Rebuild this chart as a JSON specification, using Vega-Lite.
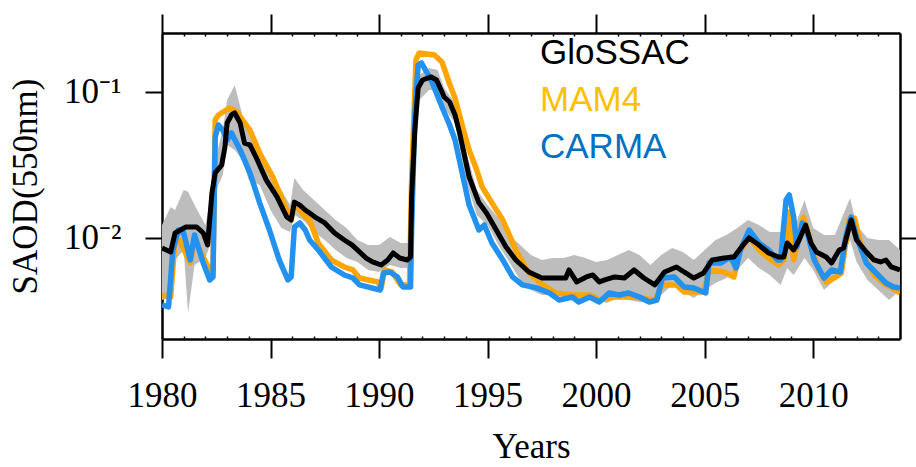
{
  "$schema": "https://vega.github.io/schema/vega-lite/v6.json",
  "width": 738,
  "height": 306,
  "autosize": "none",
  "padding": {"left": 162, "top": 33, "right": 16, "bottom": 128},
  "background": "white",
  "config": {
    "view": {"stroke": null},
    "axis": {
      "domainColor": "black", "domainWidth": 2.5, "tickColor": "black", "tickWidth": 2,
      "labelFont": "Liberation Serif", "labelFontSize": 35, "labelColor": "black",
      "titleFont": "Liberation Serif", "titleFontSize": 35, "titleFontWeight": "normal", "titleColor": "black",
      "grid": false, "zindex": 1, "labelFlush": false, "labelOverlap": false
    }
  },
  "datasets": {
    "band": [
      {"year": 1980.0, "lo": 0.00376, "hi": 0.01227}, {"year": 1980.4, "lo": 0.00394, "hi": 0.0163},
      {"year": 1980.6, "lo": 0.00707, "hi": 0.01555}, {"year": 1981.0, "lo": 0.00828, "hi": 0.0213},
      {"year": 1981.2, "lo": 0.00306, "hi": 0.0207}, {"year": 1981.5, "lo": 0.00653, "hi": 0.0168},
      {"year": 1982.0, "lo": 0.00729, "hi": 0.01227}, {"year": 1982.3, "lo": 0.00969, "hi": 0.0213},
      {"year": 1982.5, "lo": 0.0213, "hi": 0.037}, {"year": 1982.8, "lo": 0.027, "hi": 0.0549},
      {"year": 1983.0, "lo": 0.0434, "hi": 0.0882}, {"year": 1983.35, "lo": 0.0401, "hi": 0.1116},
      {"year": 1983.7, "lo": 0.0342, "hi": 0.0696}, {"year": 1984.0, "lo": 0.025, "hi": 0.0549},
      {"year": 1984.5, "lo": 0.0231, "hi": 0.0401}, {"year": 1985.0, "lo": 0.01555, "hi": 0.0292},
      {"year": 1985.5, "lo": 0.01171, "hi": 0.0213}, {"year": 1985.9, "lo": 0.01099, "hi": 0.0168},
      {"year": 1986.1, "lo": 0.01437, "hi": 0.0258}, {"year": 1986.5, "lo": 0.01328, "hi": 0.0213},
      {"year": 1987.0, "lo": 0.01099, "hi": 0.0182}, {"year": 1987.5, "lo": 0.00969, "hi": 0.01555},
      {"year": 1988.0, "lo": 0.00828, "hi": 0.01328}, {"year": 1988.5, "lo": 0.00729, "hi": 0.01171},
      {"year": 1989.0, "lo": 0.00685, "hi": 0.00969}, {"year": 1989.5, "lo": 0.00604, "hi": 0.00896},
      {"year": 1990.0, "lo": 0.00585, "hi": 0.00896}, {"year": 1990.5, "lo": 0.00653, "hi": 0.01016},
      {"year": 1991.0, "lo": 0.00623, "hi": 0.00924}, {"year": 1991.45, "lo": 0.00623, "hi": 0.00924},
      {"year": 1991.5, "lo": 0.01555, "hi": 0.0213}, {"year": 1991.7, "lo": 0.0401, "hi": 0.0954},
      {"year": 1991.85, "lo": 0.0882, "hi": 0.1308}, {"year": 1992.3, "lo": 0.1032, "hi": 0.146},
      {"year": 1992.7, "lo": 0.1032, "hi": 0.1415}, {"year": 1993.0, "lo": 0.0777, "hi": 0.1065},
      {"year": 1993.5, "lo": 0.0613, "hi": 0.0841}, {"year": 1994.0, "lo": 0.025, "hi": 0.0401},
      {"year": 1994.5, "lo": 0.01437, "hi": 0.0213}, {"year": 1995.0, "lo": 0.01227, "hi": 0.0168},
      {"year": 1995.5, "lo": 0.00896, "hi": 0.01371}, {"year": 1996.0, "lo": 0.00685, "hi": 0.01048},
      {"year": 1996.5, "lo": 0.00516, "hi": 0.00896}, {"year": 1997.0, "lo": 0.0044, "hi": 0.00765},
      {"year": 1997.5, "lo": 0.00407, "hi": 0.00707}, {"year": 1998.0, "lo": 0.00407, "hi": 0.00729},
      {"year": 1998.5, "lo": 0.00407, "hi": 0.00729}, {"year": 1999.0, "lo": 0.00376, "hi": 0.00765},
      {"year": 1999.5, "lo": 0.00376, "hi": 0.00729}, {"year": 2000.0, "lo": 0.00376, "hi": 0.00685},
      {"year": 2000.5, "lo": 0.00359, "hi": 0.00707}, {"year": 2001.0, "lo": 0.00388, "hi": 0.00765},
      {"year": 2001.5, "lo": 0.00376, "hi": 0.00828}, {"year": 2002.0, "lo": 0.00364, "hi": 0.00765},
      {"year": 2002.5, "lo": 0.00359, "hi": 0.00653}, {"year": 2003.0, "lo": 0.00407, "hi": 0.00765},
      {"year": 2003.5, "lo": 0.00477, "hi": 0.00854}, {"year": 2004.0, "lo": 0.00427, "hi": 0.00802},
      {"year": 2004.5, "lo": 0.00388, "hi": 0.00707}, {"year": 2005.0, "lo": 0.0044, "hi": 0.00828},
      {"year": 2005.5, "lo": 0.00492, "hi": 0.00969}, {"year": 2006.0, "lo": 0.00532, "hi": 0.01048},
      {"year": 2006.5, "lo": 0.00604, "hi": 0.01171}, {"year": 2007.0, "lo": 0.00729, "hi": 0.01328},
      {"year": 2007.5, "lo": 0.00623, "hi": 0.01227}, {"year": 2008.0, "lo": 0.00558, "hi": 0.01099},
      {"year": 2008.5, "lo": 0.00477, "hi": 0.01099}, {"year": 2008.8, "lo": 0.00623, "hi": 0.01328},
      {"year": 2009.1, "lo": 0.00558, "hi": 0.01134}, {"year": 2009.6, "lo": 0.00729, "hi": 0.0182},
      {"year": 2010.0, "lo": 0.00604, "hi": 0.01171}, {"year": 2010.5, "lo": 0.0044, "hi": 0.01048},
      {"year": 2011.0, "lo": 0.00516, "hi": 0.01048}, {"year": 2011.7, "lo": 0.00969, "hi": 0.0188},
      {"year": 2012.0, "lo": 0.00685, "hi": 0.01227}, {"year": 2012.5, "lo": 0.00516, "hi": 0.01},
      {"year": 2013.0, "lo": 0.0044, "hi": 0.00969}, {"year": 2013.5, "lo": 0.00376, "hi": 0.00969},
      {"year": 2014.0, "lo": 0.0044, "hi": 0.00828}
    ],
    "series": [
      {"series": "GloSSAC", "year": 1980.0, "saod": 0.00854}, {"series": "GloSSAC", "year": 1980.4, "saod": 0.00802},
      {"series": "GloSSAC", "year": 1980.6, "saod": 0.01082}, {"series": "GloSSAC", "year": 1981.1, "saod": 0.01189},
      {"series": "GloSSAC", "year": 1981.6, "saod": 0.01189}, {"series": "GloSSAC", "year": 1981.9, "saod": 0.01082},
      {"series": "GloSSAC", "year": 1982.1, "saod": 0.00896}, {"series": "GloSSAC", "year": 1982.3, "saod": 0.0203},
      {"series": "GloSSAC", "year": 1982.45, "saod": 0.0279}, {"series": "GloSSAC", "year": 1982.75, "saod": 0.0316},
      {"series": "GloSSAC", "year": 1982.9, "saod": 0.042}, {"series": "GloSSAC", "year": 1983.0, "saod": 0.0613},
      {"series": "GloSSAC", "year": 1983.2, "saod": 0.0696}, {"series": "GloSSAC", "year": 1983.35, "saod": 0.0718},
      {"series": "GloSSAC", "year": 1983.6, "saod": 0.0613}, {"series": "GloSSAC", "year": 1983.8, "saod": 0.0447},
      {"series": "GloSSAC", "year": 1984.05, "saod": 0.0434}, {"series": "GloSSAC", "year": 1984.35, "saod": 0.0353},
      {"series": "GloSSAC", "year": 1984.8, "saod": 0.025}, {"series": "GloSSAC", "year": 1985.3, "saod": 0.0191},
      {"series": "GloSSAC", "year": 1985.75, "saod": 0.01392}, {"series": "GloSSAC", "year": 1985.95, "saod": 0.01328},
      {"series": "GloSSAC", "year": 1986.1, "saod": 0.0176}, {"series": "GloSSAC", "year": 1986.35, "saod": 0.0168},
      {"series": "GloSSAC", "year": 1986.6, "saod": 0.01555}, {"series": "GloSSAC", "year": 1986.8, "saod": 0.01483},
      {"series": "GloSSAC", "year": 1987.05, "saod": 0.01392}, {"series": "GloSSAC", "year": 1987.5, "saod": 0.01267},
      {"series": "GloSSAC", "year": 1987.95, "saod": 0.01082}, {"series": "GloSSAC", "year": 1988.4, "saod": 0.00969},
      {"series": "GloSSAC", "year": 1988.75, "saod": 0.00896}, {"series": "GloSSAC", "year": 1989.0, "saod": 0.00828},
      {"series": "GloSSAC", "year": 1989.4, "saod": 0.00729}, {"series": "GloSSAC", "year": 1989.7, "saod": 0.00685},
      {"series": "GloSSAC", "year": 1990.1, "saod": 0.00653}, {"series": "GloSSAC", "year": 1990.4, "saod": 0.00707},
      {"series": "GloSSAC", "year": 1990.65, "saod": 0.00789}, {"series": "GloSSAC", "year": 1990.95, "saod": 0.00729},
      {"series": "GloSSAC", "year": 1991.3, "saod": 0.00707}, {"series": "GloSSAC", "year": 1991.45, "saod": 0.00741},
      {"series": "GloSSAC", "year": 1991.5, "saod": 0.0191}, {"series": "GloSSAC", "year": 1991.65, "saod": 0.0549},
      {"series": "GloSSAC", "year": 1991.8, "saod": 0.1065}, {"series": "GloSSAC", "year": 1992.0, "saod": 0.1208},
      {"series": "GloSSAC", "year": 1992.4, "saod": 0.1267}, {"series": "GloSSAC", "year": 1992.65, "saod": 0.1208},
      {"series": "GloSSAC", "year": 1993.0, "saod": 0.0924}, {"series": "GloSSAC", "year": 1993.25, "saod": 0.0854},
      {"series": "GloSSAC", "year": 1993.5, "saod": 0.0696}, {"series": "GloSSAC", "year": 1993.7, "saod": 0.0532},
      {"series": "GloSSAC", "year": 1994.15, "saod": 0.0262}, {"series": "GloSSAC", "year": 1994.6, "saod": 0.0174},
      {"series": "GloSSAC", "year": 1994.95, "saod": 0.01483}, {"series": "GloSSAC", "year": 1995.4, "saod": 0.01134},
      {"series": "GloSSAC", "year": 1995.85, "saod": 0.00868}, {"series": "GloSSAC", "year": 1996.3, "saod": 0.00707},
      {"series": "GloSSAC", "year": 1996.9, "saod": 0.00585}, {"series": "GloSSAC", "year": 1997.5, "saod": 0.00532},
      {"series": "GloSSAC", "year": 1998.15, "saod": 0.00532}, {"series": "GloSSAC", "year": 1998.6, "saod": 0.00532},
      {"series": "GloSSAC", "year": 1998.75, "saod": 0.00604}, {"series": "GloSSAC", "year": 1999.1, "saod": 0.005},
      {"series": "GloSSAC", "year": 1999.55, "saod": 0.00541}, {"series": "GloSSAC", "year": 1999.85, "saod": 0.00558},
      {"series": "GloSSAC", "year": 2000.15, "saod": 0.005}, {"series": "GloSSAC", "year": 2000.4, "saod": 0.00516},
      {"series": "GloSSAC", "year": 2000.85, "saod": 0.00541}, {"series": "GloSSAC", "year": 2001.3, "saod": 0.00532},
      {"series": "GloSSAC", "year": 2001.75, "saod": 0.00604}, {"series": "GloSSAC", "year": 2002.2, "saod": 0.00532},
      {"series": "GloSSAC", "year": 2002.7, "saod": 0.00477}, {"series": "GloSSAC", "year": 2003.15, "saod": 0.00585},
      {"series": "GloSSAC", "year": 2003.7, "saod": 0.00633}, {"series": "GloSSAC", "year": 2004.05, "saod": 0.00585},
      {"series": "GloSSAC", "year": 2004.5, "saod": 0.00532}, {"series": "GloSSAC", "year": 2004.95, "saod": 0.00576},
      {"series": "GloSSAC", "year": 2005.35, "saod": 0.00707}, {"series": "GloSSAC", "year": 2005.9, "saod": 0.00729},
      {"series": "GloSSAC", "year": 2006.35, "saod": 0.00741}, {"series": "GloSSAC", "year": 2006.7, "saod": 0.00868},
      {"series": "GloSSAC", "year": 2007.05, "saod": 0.01}, {"series": "GloSSAC", "year": 2007.5, "saod": 0.00896},
      {"series": "GloSSAC", "year": 2007.95, "saod": 0.00789}, {"series": "GloSSAC", "year": 2008.4, "saod": 0.00741},
      {"series": "GloSSAC", "year": 2008.65, "saod": 0.00741}, {"series": "GloSSAC", "year": 2008.8, "saod": 0.00924},
      {"series": "GloSSAC", "year": 2009.1, "saod": 0.00828}, {"series": "GloSSAC", "year": 2009.35, "saod": 0.00969},
      {"series": "GloSSAC", "year": 2009.65, "saod": 0.01227}, {"series": "GloSSAC", "year": 2009.9, "saod": 0.00924},
      {"series": "GloSSAC", "year": 2010.15, "saod": 0.00802}, {"series": "GloSSAC", "year": 2010.6, "saod": 0.00741},
      {"series": "GloSSAC", "year": 2010.85, "saod": 0.00674}, {"series": "GloSSAC", "year": 2011.2, "saod": 0.00828},
      {"series": "GloSSAC", "year": 2011.4, "saod": 0.00854}, {"series": "GloSSAC", "year": 2011.75, "saod": 0.01328},
      {"series": "GloSSAC", "year": 2012.0, "saod": 0.00969}, {"series": "GloSSAC", "year": 2012.45, "saod": 0.00802},
      {"series": "GloSSAC", "year": 2012.8, "saod": 0.00707}, {"series": "GloSSAC", "year": 2013.1, "saod": 0.00685},
      {"series": "GloSSAC", "year": 2013.35, "saod": 0.00707}, {"series": "GloSSAC", "year": 2013.6, "saod": 0.00633},
      {"series": "GloSSAC", "year": 2014.0, "saod": 0.00604},

      {"series": "MAM4", "year": 1980.0, "saod": 0.00407}, {"series": "MAM4", "year": 1980.4, "saod": 0.00394},
      {"series": "MAM4", "year": 1980.6, "saod": 0.00969}, {"series": "MAM4", "year": 1980.8, "saod": 0.00969},
      {"series": "MAM4", "year": 1981.3, "saod": 0.00674}, {"series": "MAM4", "year": 1981.5, "saod": 0.00969},
      {"series": "MAM4", "year": 1982.2, "saod": 0.00604}, {"series": "MAM4", "year": 1982.35, "saod": 0.00604},
      {"series": "MAM4", "year": 1982.45, "saod": 0.0643}, {"series": "MAM4", "year": 1982.6, "saod": 0.0696},
      {"series": "MAM4", "year": 1983.1, "saod": 0.0777}, {"series": "MAM4", "year": 1983.45, "saod": 0.0729},
      {"series": "MAM4", "year": 1984.05, "saod": 0.0549}, {"series": "MAM4", "year": 1984.5, "saod": 0.0382},
      {"series": "MAM4", "year": 1985.1, "saod": 0.0262}, {"series": "MAM4", "year": 1985.75, "saod": 0.01555},
      {"series": "MAM4", "year": 1985.95, "saod": 0.01328}, {"series": "MAM4", "year": 1986.1, "saod": 0.0174},
      {"series": "MAM4", "year": 1986.6, "saod": 0.01392}, {"series": "MAM4", "year": 1986.8, "saod": 0.01328},
      {"series": "MAM4", "year": 1987.2, "saod": 0.00924}, {"series": "MAM4", "year": 1987.8, "saod": 0.00707},
      {"series": "MAM4", "year": 1988.4, "saod": 0.00633}, {"series": "MAM4", "year": 1988.8, "saod": 0.00604},
      {"series": "MAM4", "year": 1989.1, "saod": 0.00532}, {"series": "MAM4", "year": 1989.95, "saod": 0.005},
      {"series": "MAM4", "year": 1990.1, "saod": 0.00455}, {"series": "MAM4", "year": 1990.25, "saod": 0.00604},
      {"series": "MAM4", "year": 1990.6, "saod": 0.00585}, {"series": "MAM4", "year": 1991.0, "saod": 0.00477},
      {"series": "MAM4", "year": 1991.4, "saod": 0.00477}, {"series": "MAM4", "year": 1991.5, "saod": 0.025},
      {"series": "MAM4", "year": 1991.7, "saod": 0.1656}, {"series": "MAM4", "year": 1991.85, "saod": 0.1849},
      {"series": "MAM4", "year": 1992.55, "saod": 0.1792}, {"series": "MAM4", "year": 1992.9, "saod": 0.1605},
      {"series": "MAM4", "year": 1993.25, "saod": 0.1134}, {"series": "MAM4", "year": 1993.5, "saod": 0.091},
      {"series": "MAM4", "year": 1993.85, "saod": 0.0576}, {"series": "MAM4", "year": 1994.15, "saod": 0.0401},
      {"series": "MAM4", "year": 1994.5, "saod": 0.0292}, {"series": "MAM4", "year": 1994.75, "saod": 0.0224},
      {"series": "MAM4", "year": 1995.2, "saod": 0.0174}, {"series": "MAM4", "year": 1995.7, "saod": 0.01328},
      {"series": "MAM4", "year": 1996.3, "saod": 0.00828}, {"series": "MAM4", "year": 1996.9, "saod": 0.00576},
      {"series": "MAM4", "year": 1997.55, "saod": 0.00477}, {"series": "MAM4", "year": 1998.15, "saod": 0.0042},
      {"series": "MAM4", "year": 1998.9, "saod": 0.00407}, {"series": "MAM4", "year": 1999.7, "saod": 0.00407},
      {"series": "MAM4", "year": 2000.15, "saod": 0.00376}, {"series": "MAM4", "year": 2000.85, "saod": 0.00394},
      {"series": "MAM4", "year": 2001.75, "saod": 0.00394}, {"series": "MAM4", "year": 2002.7, "saod": 0.00376},
      {"series": "MAM4", "year": 2003.05, "saod": 0.00477}, {"series": "MAM4", "year": 2003.7, "saod": 0.00477},
      {"series": "MAM4", "year": 2004.05, "saod": 0.00427}, {"series": "MAM4", "year": 2004.95, "saod": 0.00427},
      {"series": "MAM4", "year": 2005.2, "saod": 0.00604}, {"series": "MAM4", "year": 2005.9, "saod": 0.00585},
      {"series": "MAM4", "year": 2006.35, "saod": 0.00541}, {"series": "MAM4", "year": 2006.6, "saod": 0.00802},
      {"series": "MAM4", "year": 2007.05, "saod": 0.01016}, {"series": "MAM4", "year": 2007.5, "saod": 0.00828},
      {"series": "MAM4", "year": 2007.95, "saod": 0.00729}, {"series": "MAM4", "year": 2008.4, "saod": 0.00653},
      {"series": "MAM4", "year": 2008.65, "saod": 0.00707}, {"series": "MAM4", "year": 2008.85, "saod": 0.01506},
      {"series": "MAM4", "year": 2009.1, "saod": 0.00707}, {"series": "MAM4", "year": 2009.55, "saod": 0.01392},
      {"series": "MAM4", "year": 2009.9, "saod": 0.00924}, {"series": "MAM4", "year": 2010.25, "saod": 0.00604},
      {"series": "MAM4", "year": 2010.6, "saod": 0.005}, {"series": "MAM4", "year": 2011.05, "saod": 0.00541},
      {"series": "MAM4", "year": 2011.3, "saod": 0.00576}, {"series": "MAM4", "year": 2011.65, "saod": 0.01328},
      {"series": "MAM4", "year": 2011.9, "saod": 0.01371}, {"series": "MAM4", "year": 2012.35, "saod": 0.00741},
      {"series": "MAM4", "year": 2012.8, "saod": 0.00558}, {"series": "MAM4", "year": 2013.35, "saod": 0.00477},
      {"series": "MAM4", "year": 2013.8, "saod": 0.0044}, {"series": "MAM4", "year": 2014.0, "saod": 0.0042},

      {"series": "CARMA", "year": 1980.0, "saod": 0.00348}, {"series": "CARMA", "year": 1980.3, "saod": 0.00337},
      {"series": "CARMA", "year": 1980.5, "saod": 0.00828}, {"series": "CARMA", "year": 1980.75, "saod": 0.01134},
      {"series": "CARMA", "year": 1981.0, "saod": 0.01082}, {"series": "CARMA", "year": 1981.3, "saod": 0.00707},
      {"series": "CARMA", "year": 1981.5, "saod": 0.01048}, {"series": "CARMA", "year": 1981.9, "saod": 0.00674},
      {"series": "CARMA", "year": 1982.2, "saod": 0.00516}, {"series": "CARMA", "year": 1982.35, "saod": 0.00541},
      {"series": "CARMA", "year": 1982.45, "saod": 0.0492}, {"series": "CARMA", "year": 1982.6, "saod": 0.0594},
      {"series": "CARMA", "year": 1982.8, "saod": 0.0549}, {"series": "CARMA", "year": 1983.0, "saod": 0.0469},
      {"series": "CARMA", "year": 1983.2, "saod": 0.0524}, {"series": "CARMA", "year": 1983.6, "saod": 0.0401},
      {"series": "CARMA", "year": 1984.05, "saod": 0.0279}, {"series": "CARMA", "year": 1984.5, "saod": 0.0174},
      {"series": "CARMA", "year": 1984.95, "saod": 0.01134}, {"series": "CARMA", "year": 1985.4, "saod": 0.00707},
      {"series": "CARMA", "year": 1985.8, "saod": 0.00516}, {"series": "CARMA", "year": 1985.95, "saod": 0.00541},
      {"series": "CARMA", "year": 1986.1, "saod": 0.01189}, {"series": "CARMA", "year": 1986.35, "saod": 0.01267},
      {"series": "CARMA", "year": 1986.6, "saod": 0.01134}, {"series": "CARMA", "year": 1986.8, "saod": 0.00969},
      {"series": "CARMA", "year": 1987.2, "saod": 0.00828}, {"series": "CARMA", "year": 1987.8, "saod": 0.00633},
      {"series": "CARMA", "year": 1988.4, "saod": 0.00558}, {"series": "CARMA", "year": 1988.8, "saod": 0.00532},
      {"series": "CARMA", "year": 1989.1, "saod": 0.00477}, {"series": "CARMA", "year": 1990.05, "saod": 0.0044},
      {"series": "CARMA", "year": 1990.2, "saod": 0.00576}, {"series": "CARMA", "year": 1990.5, "saod": 0.00585},
      {"series": "CARMA", "year": 1990.85, "saod": 0.00541}, {"series": "CARMA", "year": 1991.1, "saod": 0.00462},
      {"series": "CARMA", "year": 1991.45, "saod": 0.00462}, {"series": "CARMA", "year": 1991.5, "saod": 0.01134},
      {"series": "CARMA", "year": 1991.65, "saod": 0.0718}, {"series": "CARMA", "year": 1991.8, "saod": 0.1531},
      {"series": "CARMA", "year": 1991.95, "saod": 0.158}, {"series": "CARMA", "year": 1992.4, "saod": 0.1208},
      {"series": "CARMA", "year": 1992.9, "saod": 0.0789}, {"series": "CARMA", "year": 1993.25, "saod": 0.0594},
      {"series": "CARMA", "year": 1993.5, "saod": 0.0469}, {"series": "CARMA", "year": 1993.7, "saod": 0.0342},
      {"series": "CARMA", "year": 1994.15, "saod": 0.0168}, {"series": "CARMA", "year": 1994.6, "saod": 0.01134},
      {"series": "CARMA", "year": 1994.85, "saod": 0.01227}, {"series": "CARMA", "year": 1995.2, "saod": 0.00924},
      {"series": "CARMA", "year": 1995.7, "saod": 0.00707}, {"series": "CARMA", "year": 1996.15, "saod": 0.00541},
      {"series": "CARMA", "year": 1996.6, "saod": 0.00477}, {"series": "CARMA", "year": 1997.25, "saod": 0.00455},
      {"series": "CARMA", "year": 1997.85, "saod": 0.0042}, {"series": "CARMA", "year": 1998.3, "saod": 0.00376},
      {"series": "CARMA", "year": 1998.9, "saod": 0.00394}, {"series": "CARMA", "year": 1999.2, "saod": 0.00364},
      {"series": "CARMA", "year": 1999.7, "saod": 0.00394}, {"series": "CARMA", "year": 2000.15, "saod": 0.00364},
      {"series": "CARMA", "year": 2000.6, "saod": 0.0042}, {"series": "CARMA", "year": 2001.05, "saod": 0.00407},
      {"series": "CARMA", "year": 2001.5, "saod": 0.0042}, {"series": "CARMA", "year": 2002.0, "saod": 0.00394},
      {"series": "CARMA", "year": 2002.45, "saod": 0.00364}, {"series": "CARMA", "year": 2002.8, "saod": 0.00376},
      {"series": "CARMA", "year": 2003.05, "saod": 0.00532}, {"series": "CARMA", "year": 2003.6, "saod": 0.00541},
      {"series": "CARMA", "year": 2004.05, "saod": 0.00462}, {"series": "CARMA", "year": 2004.5, "saod": 0.00455},
      {"series": "CARMA", "year": 2005.05, "saod": 0.0042}, {"series": "CARMA", "year": 2005.2, "saod": 0.00674},
      {"series": "CARMA", "year": 2005.75, "saod": 0.00674}, {"series": "CARMA", "year": 2006.2, "saod": 0.00741},
      {"series": "CARMA", "year": 2006.45, "saod": 0.00623}, {"series": "CARMA", "year": 2006.65, "saod": 0.00828},
      {"series": "CARMA", "year": 2007.05, "saod": 0.01134}, {"series": "CARMA", "year": 2007.5, "saod": 0.00924},
      {"series": "CARMA", "year": 2007.95, "saod": 0.00828}, {"series": "CARMA", "year": 2008.35, "saod": 0.00707},
      {"series": "CARMA", "year": 2008.5, "saod": 0.00707}, {"series": "CARMA", "year": 2008.75, "saod": 0.0182},
      {"series": "CARMA", "year": 2008.9, "saod": 0.0197}, {"series": "CARMA", "year": 2009.1, "saod": 0.01392},
      {"series": "CARMA", "year": 2009.25, "saod": 0.00868}, {"series": "CARMA", "year": 2009.5, "saod": 0.01267},
      {"series": "CARMA", "year": 2009.7, "saod": 0.01134}, {"series": "CARMA", "year": 2010.05, "saod": 0.00707},
      {"series": "CARMA", "year": 2010.5, "saod": 0.00532}, {"series": "CARMA", "year": 2010.85, "saod": 0.00604},
      {"series": "CARMA", "year": 2011.25, "saod": 0.00585}, {"series": "CARMA", "year": 2011.5, "saod": 0.01016},
      {"series": "CARMA", "year": 2011.75, "saod": 0.01392}, {"series": "CARMA", "year": 2012.0, "saod": 0.01016},
      {"series": "CARMA", "year": 2012.45, "saod": 0.00674}, {"series": "CARMA", "year": 2012.9, "saod": 0.00576},
      {"series": "CARMA", "year": 2013.35, "saod": 0.00492}, {"series": "CARMA", "year": 2013.7, "saod": 0.00462},
      {"series": "CARMA", "year": 2014.0, "saod": 0.00455}
    ]
  },
  "resolve": {"axis": {"x": "independent", "y": "independent"}},
  "layer": [
    {
      "data": {"name": "band"},
      "mark": {"type": "area", "color": "#bdbdbd", "clip": true},
      "encoding": {
        "x": {
          "field": "year", "type": "quantitative",
          "scale": {"domain": [1980, 2014], "nice": false, "zero": false},
          "axis": {
            "orient": "bottom", "values": [1980, 1985, 1990, 1995, 2000, 2005, 2010],
            "format": "d", "tickSize": 19, "labelPadding": 20, "title": "Years", "titlePadding": 16
          }
        },
        "y": {
          "field": "lo", "type": "quantitative",
          "scale": {"type": "log", "domain": [0.002033, 0.2535], "nice": false},
          "axis": {
            "orient": "left", "values": [0.01, 0.1],
            "labelExpr": "datum.value > 0.05 ? '10⁻¹' : '10⁻²'",
            "tickSize": 17, "labelPadding": 24, "title": "SAOD(550nm)", "titlePadding": 20
          }
        },
        "y2": {"field": "hi"}
      }
    },
    {
      "data": {"name": "series"},
      "transform": [{"filter": "datum.series === 'MAM4'"}],
      "mark": {"type": "line", "strokeWidth": 5.5, "strokeJoin": "round", "clip": true},
      "encoding": {
        "x": {
          "field": "year", "type": "quantitative",
          "axis": {"orient": "top", "values": [1980, 1985, 1990, 1995, 2000, 2005, 2010], "tickSize": 19, "labels": false, "title": null}
        },
        "y": {
          "field": "saod", "type": "quantitative",
          "axis": {"orient": "right", "values": [0.01, 0.1], "tickSize": 16, "labels": false, "title": null}
        },
        "color": {
          "field": "series", "type": "nominal",
          "scale": {"domain": ["GloSSAC", "MAM4", "CARMA"], "range": ["#000000", "#ffa500", "#2291f0"]},
          "legend": {
            "orient": "none", "legendX": 343, "legendY": 2, "title": null,
            "padding": 0, "rowPadding": 11, "symbolSize": 0, "symbolStrokeWidth": 0, "symbolOpacity": 0,
            "labelOffset": 0, "labelFont": "Liberation Sans", "labelFontSize": 35,
            "encode": {"labels": {"update": {"fill": {"signal": "datum.value === 'MAM4' ? '#ffc000' : datum.value === 'CARMA' ? '#0070c0' : '#000000'"}}}}
          }
        }
      }
    },
    {
      "data": {"name": "series"},
      "transform": [{"filter": "datum.series === 'CARMA'"}],
      "mark": {"type": "line", "strokeWidth": 5.5, "strokeJoin": "round", "clip": true},
      "encoding": {
        "x": {
          "field": "year", "type": "quantitative",
          "axis": {"orient": "bottom", "values": [1981, 1982, 1983, 1984, 1986, 1987, 1988, 1989, 1991, 1992, 1993, 1994, 1996, 1997, 1998, 1999, 2001, 2002, 2003, 2004, 2006, 2007, 2008, 2009, 2011, 2012, 2013], "tickSize": -3, "tickWidth": 1.5, "labels": false, "domain": false, "title": null}
        },
        "y": {"field": "saod", "type": "quantitative", "axis": null},
        "color": {"field": "series", "type": "nominal"}
      }
    },
    {
      "data": {"name": "series"},
      "transform": [{"filter": "datum.series === 'GloSSAC'"}],
      "mark": {"type": "line", "strokeWidth": 5, "strokeJoin": "round", "clip": true},
      "encoding": {
        "x": {
          "field": "year", "type": "quantitative",
          "axis": {"orient": "top", "values": [1981, 1982, 1983, 1984, 1986, 1987, 1988, 1989, 1991, 1992, 1993, 1994, 1996, 1997, 1998, 1999, 2001, 2002, 2003, 2004, 2006, 2007, 2008, 2009, 2011, 2012, 2013], "tickSize": -3, "tickWidth": 1.5, "labels": false, "domain": false, "title": null}
        },
        "y": {"field": "saod", "type": "quantitative", "axis": null},
        "color": {"field": "series", "type": "nominal"}
      }
    }
  ]
}
